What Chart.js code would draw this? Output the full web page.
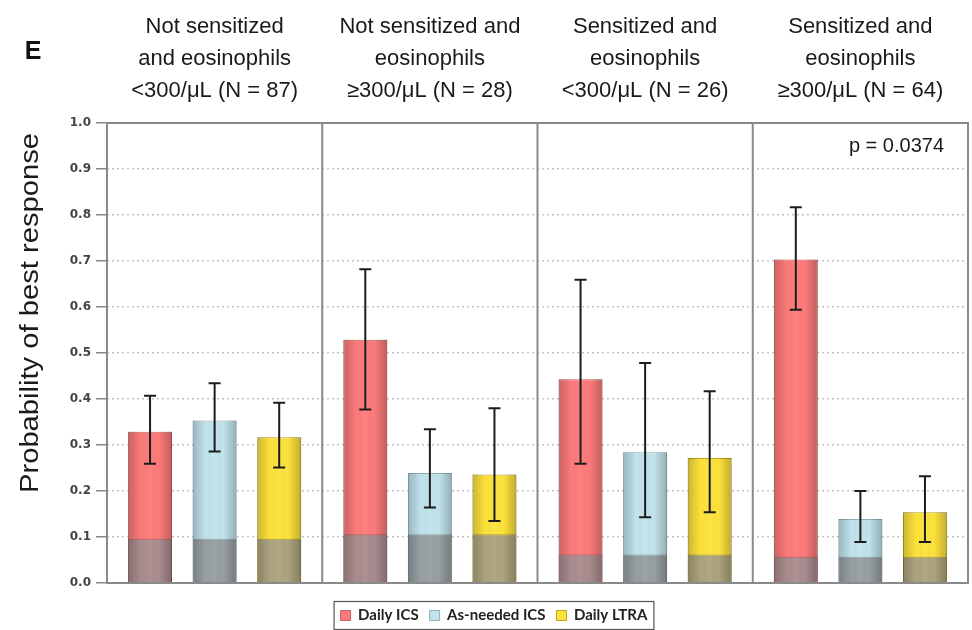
<!DOCTYPE html>
<html><head><meta charset="utf-8">
<script src="https://cdn.jsdelivr.net/npm/chart.js@4/dist/chart.umd.min.js"></script>
<style>html,body{margin:0;padding:0;background:#fff}canvas{display:block}</style>
</head><body>
<canvas id="c" width="972" height="630"></canvas>
<script>
// ---- data ----
const groups = [
  ['Not sensitized', 'and eosinophils', '<300/μL (N = 87)'],
  ['Not sensitized and', 'eosinophils', '≥300/μL (N = 28)'],
  ['Sensitized and', 'eosinophils', '<300/μL (N = 26)'],
  ['Sensitized and', 'eosinophils', '≥300/μL (N = 64)']
];
const seriesNames = ['Daily ICS', 'As-needed ICS', 'Daily LTRA'];
const dailyICS      = [0.329, 0.529, 0.443, 0.703];
const dailyICSLow   = [0.259, 0.377, 0.259, 0.594];
const dailyICSHigh  = [0.407, 0.682, 0.659, 0.817];
const asNeededICS     = [0.353, 0.239, 0.284, 0.139];
const asNeededICSLow  = [0.286, 0.164, 0.143, 0.089];
const asNeededICSHigh = [0.434, 0.334, 0.478, 0.200];
const dailyLTRA     = [0.317, 0.236, 0.272, 0.154];
const dailyLTRALow  = [0.251, 0.135, 0.154, 0.089];
const dailyLTRAHigh = [0.392, 0.380, 0.417, 0.232];
const baseline = [0.096, 0.106, 0.062, 0.057];
const yTickLabels = ['0.0','0.1','0.2','0.3','0.4','0.5','0.6','0.7','0.8','0.9','1.0'];
const pValueText = 'p = 0.0374';
const panelLetter = 'E';
const yTitle = 'Probability of best response';

// ---- styles ----
const fillColors = ['#fd7a7a', '#c0e3ec', '#fde23c'];
const edgeColors = ['#c46262', '#8fb0ba', '#c2a51c'];
const baseColors = ['#a98c8e', '#979fa3', '#aca47e'];
const values = [dailyICS, asNeededICS, dailyLTRA];
const lows = [dailyICSLow, asNeededICSLow, dailyLTRALow];
const highs = [dailyICSHigh, asNeededICSHigh, dailyLTRAHigh];
const stacks = ['ics', 'asn', 'ltra'];

const datasets = [];
for (let s = 0; s < 3; s++) {
  datasets.push({
    label: seriesNames[s], data: values[s], stack: stacks[s], order: 2,
    backgroundColor: fillColors[s], borderColor: edgeColors[s], borderWidth: 1,
    categoryPercentage: 0.9, barPercentage: 0.68
  });
}
for (let s = 0; s < 3; s++) {
  datasets.push({
    label: seriesNames[s] + ' base', data: baseline, stack: stacks[s], order: 1,
    backgroundColor: baseColors[s], borderColor: 'rgba(90,90,90,0.5)', borderWidth: 1,
    categoryPercentage: 0.9, barPercentage: 0.68
  });
}

const decor = {
  id: 'decor',
  afterLayout(chart) {
    const L = chart.legend; const dy = 14, dx = 10;
    L.top += dy; L.bottom += dy; L.left += dx; L.right += dx;
  },
  afterDatasetsDraw(chart) {
    const ctx = chart.ctx, ys = chart.scales.y;
    ctx.save();
    for (let d = 0; d < 3; d++) {
      const meta = chart.getDatasetMeta(d);
      meta.data.forEach((el) => {
        const p = el.getProps(['x', 'y', 'width', 'base'], true);
        const l = p.x - p.width / 2;
        const g = ctx.createLinearGradient(l, 0, l + p.width, 0);
        g.addColorStop(0, 'rgba(0,0,0,0.20)');
        g.addColorStop(0.3, 'rgba(0,0,0,0)');
        g.addColorStop(0.5, 'rgba(255,255,255,0.06)');
        g.addColorStop(0.7, 'rgba(0,0,0,0)');
        g.addColorStop(1, 'rgba(0,0,0,0.24)');
        ctx.fillStyle = g;
        ctx.fillRect(l, p.y, p.width, p.base - p.y);
      });
    }
    // error bars
    ctx.strokeStyle = '#1c1c1c';
    ctx.lineWidth = 2;
    for (let d = 0; d < 3; d++) {
      const meta = chart.getDatasetMeta(d);
      meta.data.forEach((el, i) => {
        const x = el.getProps(['x'], true).x;
        const yh = ys.getPixelForValue(highs[d][i]);
        const yl = ys.getPixelForValue(lows[d][i]);
        ctx.beginPath();
        ctx.moveTo(x, yh); ctx.lineTo(x, yl);
        ctx.moveTo(x - 6, yh); ctx.lineTo(x + 6, yh);
        ctx.moveTo(x - 6, yl); ctx.lineTo(x + 6, yl);
        ctx.stroke();
      });
    }
    ctx.restore();
  },
  afterDraw(chart) {
    const ctx = chart.ctx, a = chart.chartArea, xs = chart.scales.x, ys = chart.scales.y;
    ctx.save();
    // frame + dividers
    ctx.strokeStyle = '#8a8a8a';
    ctx.lineWidth = 2;
    ctx.strokeRect(a.left, a.top, a.right - a.left, a.bottom - a.top);
    ctx.beginPath();
    for (let i = 0; i < groups.length - 1; i++) {
      const xb = (xs.getPixelForValue(i) + xs.getPixelForValue(i + 1)) / 2;
      ctx.moveTo(xb, a.top); ctx.lineTo(xb, a.bottom);
    }
    ctx.stroke();
    // panel letter
    ctx.fillStyle = '#111';
    ctx.font = 'bold 25px "Liberation Sans", Arial, sans-serif';
    ctx.textAlign = 'center'; ctx.textBaseline = 'middle';
    ctx.fillText(panelLetter, 33, 52);
    // p-value
    ctx.font = '20px "Liberation Sans", Arial, sans-serif';
    ctx.textAlign = 'right';
    ctx.fillStyle = '#1a1a1a';
    ctx.fillText(pValueText, a.right - 24, ys.getPixelForValue(0.95));
    // y title
    ctx.save();
    ctx.translate(31, 313);
    ctx.rotate(-Math.PI / 2);
    ctx.font = '25px "Liberation Sans", Arial, sans-serif';
    const w = ctx.measureText(yTitle).width;
    ctx.scale(360 / w, 1);
    ctx.textAlign = 'center';
    ctx.fillStyle = '#1a1a1a';
    ctx.fillText(yTitle, 0, 0);
    ctx.restore();
    // legend border
    const hb = chart.legend.legendHitBoxes;
    if (hb && hb.length) {
      let l = Infinity, r = -Infinity, t = Infinity, b = -Infinity;
      hb.forEach(h => { l = Math.min(l, h.left); r = Math.max(r, h.left + h.width); t = Math.min(t, h.top); b = Math.max(b, h.top + h.height); });
      ctx.strokeStyle = '#555';
      ctx.lineWidth = 1.2;
      ctx.strokeRect(l - 6.5, t - 6.5, r - l + 13, b - t + 13);
    }
    ctx.restore();
  }
};

Chart.defaults.font.family = '"Liberation Sans", Arial, sans-serif';
new Chart(document.getElementById('c'), {
  type: 'bar',
  data: { labels: groups, datasets },
  plugins: [decor],
  options: {
    responsive: false, animation: false, devicePixelRatio: 1,
    layout: { padding: { left: 0, right: 4, top: 10, bottom: 11 } },
    plugins: {
      tooltip: { enabled: false },
      legend: {
        position: 'bottom',
        labels: {
          filter: (item) => item.datasetIndex < 3,
          boxWidth: 10, boxHeight: 10, padding: 11,
          color: '#222',
          font: { family: 'Lato, "Liberation Sans", sans-serif', size: 15, weight: 'bold' }
        }
      }
    },
    scales: {
      x: {
        position: 'top', stacked: true, offset: true,
        grid: { display: false, drawTicks: false },
        border: { display: false },
        ticks: { font: { size: 22, lineHeight: 1.45 }, color: '#1a1a1a', padding: 16, maxRotation: 0, autoSkip: false },
        afterFit(s) { s.height = 113; }
      },
      y: {
        min: 0, max: 1, stacked: false,
        ticks: {
          stepSize: 0.1,
          callback: (v, i) => yTickLabels[i],
          font: { family: '"DejaVu Sans", sans-serif', size: 12, weight: 'bold' },
          color: '#444', padding: 5
        },
        grid: {
          color: (c) => (c.index === 0 || c.index === 10) ? 'rgba(0,0,0,0)' : '#c4c4c4',
          lineWidth: 1.5, tickColor: '#8a8a8a', tickLength: 11, tickWidth: 1.5,
          tickBorderDash: [1, 0]
        },
        border: { display: false, dash: [2, 3] },
        afterFit(s) { s.width = 107; }
      }
    }
  }
});
</script>
</body></html>
